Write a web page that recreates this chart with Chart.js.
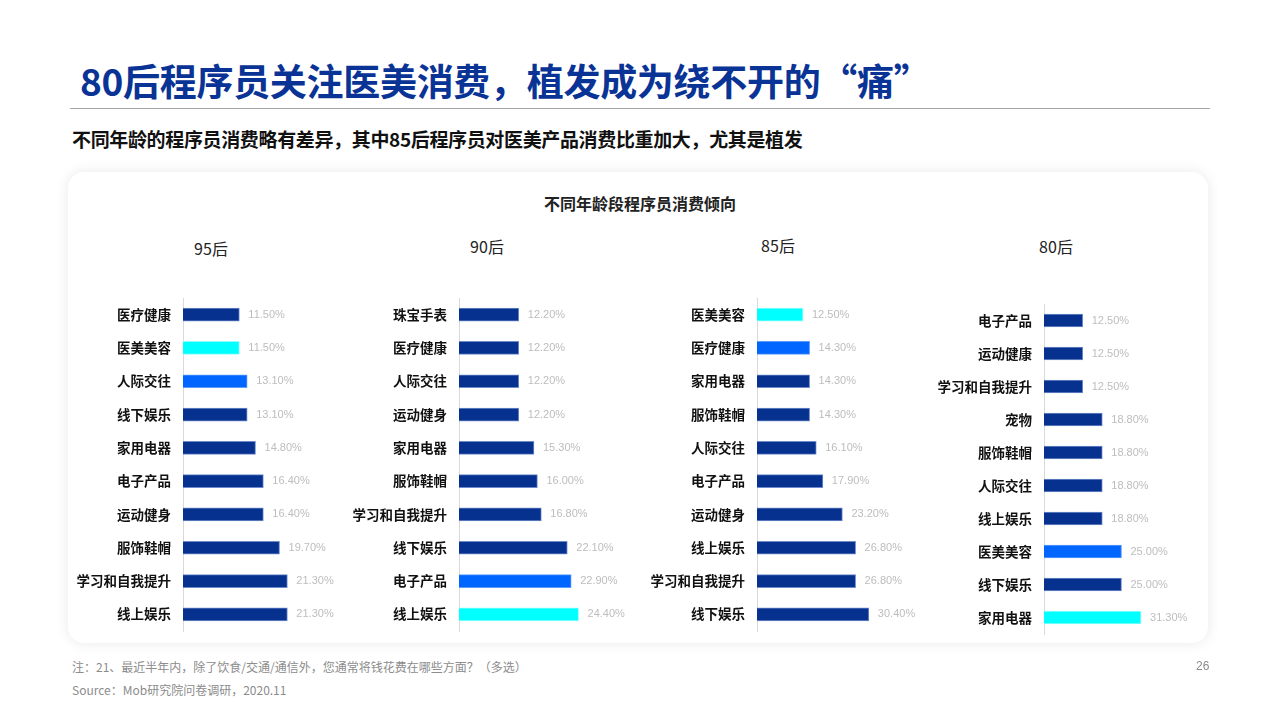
<!DOCTYPE html>
<html>
<head>
<meta charset="utf-8">
<script src="https://cdn.jsdelivr.net/npm/chart.js@4.4.0/dist/chart.umd.min.js"></script>
<style>
    body { margin: 0; width: 1280px; height: 720px; background: #fff; position: relative; overflow: hidden;
           font-family: "Noto Sans CJK SC", "Liberation Sans", sans-serif; }
    .abs { position: absolute; white-space: nowrap; }
    .title { left: 80px; top: 60px; font-size: 37px; line-height: 40px; font-weight: bold; color: #0a3396; letter-spacing: -0.3px; }
    .rule { left: 70px; top: 108px; width: 1140px; height: 1px; background: #a6a6a6; }
    .sub { left: 72px; top: 127px; font-size: 19px; line-height: 24px; font-weight: bold; color: #111; letter-spacing: -0.35px; }
    .card { left: 68px; top: 172px; width: 1140px; height: 471px; border-radius: 16px; background: #fff;
            box-shadow: 0 0 14px rgba(0,0,0,0.09); }
    .ctitle { left: 640px; top: 203px; transform: translate(-50%, -50%); font-size: 16px; font-weight: bold; color: #222; }
    .plabel { transform: translate(-50%, -50%); font-size: 16px; color: #222; }
    .note { left: 72px; font-size: 12px; color: #8c8c8c; line-height: 16px; }
    .pg { left: 1196px; top: 659px; font-size: 12px; color: #8c8c8c; font-family: "Liberation Sans", sans-serif; }
    canvas { position: absolute; }
</style>
</head>
<body>
<div class="abs title">80后程序员关注医美消费，植发成为绕不开的“痛”</div>
<div class="abs rule"></div>
<div class="abs sub">不同年龄的程序员消费略有差异，其中85后程序员对医美产品消费比重加大，尤其是植发</div>
<div class="abs card"></div>
<div class="abs ctitle">不同年龄段程序员消费倾向</div>
<div class="abs plabel" style="left:211px;top:248px">95后</div>
<div class="abs plabel" style="left:487px;top:246px">90后</div>
<div class="abs plabel" style="left:778px;top:245px">85后</div>
<div class="abs plabel" style="left:1056px;top:246px">80后</div>

<canvas id="c95"></canvas>
<canvas id="c90"></canvas>
<canvas id="c85"></canvas>
<canvas id="c80"></canvas>

<div class="abs note" style="top:659px">注：21、最近半年内，除了饮食/交通/通信外，您通常将钱花费在哪些方面？（多选）</div>
<div class="abs note" style="top:682px">Source：Mob研究院问卷调研，2020.11</div>
<div class="abs pg">26</div>

<script>
// --- Data ---
const cats95 = ['医疗健康', '医美美容', '人际交往', '线下娱乐', '家用电器', '电子产品', '运动健身', '服饰鞋帽', '学习和自我提升', '线上娱乐'];
const vals95 = [11.5, 11.5, 13.1, 13.1, 14.8, 16.4, 16.4, 19.7, 21.3, 21.3];

const cats90 = ['珠宝手表', '医疗健康', '人际交往', '运动健身', '家用电器', '服饰鞋帽', '学习和自我提升', '线下娱乐', '电子产品', '线上娱乐'];
const vals90 = [12.2, 12.2, 12.2, 12.2, 15.3, 16.0, 16.8, 22.1, 22.9, 24.4];

const cats85 = ['医美美容', '医疗健康', '家用电器', '服饰鞋帽', '人际交往', '电子产品', '运动健身', '线上娱乐', '学习和自我提升', '线下娱乐'];
const vals85 = [12.5, 14.3, 14.3, 14.3, 16.1, 17.9, 23.2, 26.8, 26.8, 30.4];

const cats80 = ['电子产品', '运动健康', '学习和自我提升', '宠物', '服饰鞋帽', '人际交往', '线上娱乐', '医美美容', '线下娱乐', '家用电器'];
const vals80 = [12.5, 12.5, 12.5, 18.8, 18.8, 18.8, 18.8, 25.0, 25.0, 31.3];

// --- Styles ---
const NAVY = '#06318f', BLUE = '#0066ff', CYAN = '#00ffff';
const EDGE = { [NAVY]: '#6f8bcb', [BLUE]: '#5c9cff', [CYAN]: '#8cffff' };
const highlights = {
    c95: { '医美美容': CYAN, '人际交往': BLUE },
    c90: { '电子产品': BLUE, '线上娱乐': CYAN },
    c85: { '医美美容': CYAN, '医疗健康': BLUE },
    c80: { '医美美容': BLUE, '家用电器': CYAN }
};

// panel geometry: canvas left, top of plot area, y-axis width, px per %, axis max, plot height
const panels = [
    { id: 'c95', cats: cats95, vals: vals95, left: 70,  areaTop: 298, axisW: 113, pxPer: 4.9,  max: 30, areaH: 333 },
    { id: 'c90', cats: cats90, vals: vals90, left: 340, areaTop: 298, axisW: 119, pxPer: 4.9,  max: 30, areaH: 333 },
    { id: 'c85', cats: cats85, vals: vals85, left: 640, areaTop: 298, axisW: 117, pxPer: 3.68, max: 40, areaH: 333 },
    { id: 'c80', cats: cats80, vals: vals80, left: 925, areaTop: 304, axisW: 119, pxPer: 3.1,  max: 45, areaH: 330 }
];

// value labels at the end of each bar
const valueLabels = {
    id: 'valueLabels',
    afterDatasetsDraw(chart) {
        const ctx = chart.ctx;
        const ds = chart.data.datasets[0];
        ctx.save();
        ctx.font = '11px "Liberation Sans", Arial, sans-serif';
        ctx.fillStyle = '#bdbdbd';
        ctx.textBaseline = 'middle';
        ctx.textAlign = 'left';
        chart.getDatasetMeta(0).data.forEach((bar, i) => {
            ctx.fillText(ds.data[i].toFixed(2) + '%', bar.x + 9, bar.y);
        });
        ctx.restore();
    }
};

function buildPanel(p) {
    const canvas = document.getElementById(p.id);
    const pad = 24, padRight = 45;
    const h = p.areaH + pad * 2;
    const w = Math.round(p.axisW + p.pxPer * p.max + padRight);
    canvas.width = w;
    canvas.height = h;
    canvas.style.left = p.left + 'px';
    canvas.style.top = (p.areaTop - pad) + 'px';

    const colors = p.cats.map(c => highlights[p.id][c] || NAVY);

    new Chart(canvas.getContext('2d'), {
        type: 'bar',
        data: {
            labels: p.cats,
            datasets: [{
                data: p.vals,
                backgroundColor: colors,
                borderColor: colors.map(c => EDGE[c]),
                borderWidth: 1,
                barThickness: 13
            }]
        },
        options: {
            indexAxis: 'y',
            responsive: false,
            animation: false,
            layout: { padding: { top: pad, bottom: pad, right: w - p.axisW - p.pxPer * p.max, left: 0 } },
            scales: {
                x: { display: false, min: 0, max: p.max },
                y: {
                    afterFit: s => { s.width = p.axisW; },
                    grid: { display: false, drawTicks: false },
                    border: { display: true, color: '#d9d9d9', width: 1 },
                    ticks: {
                        autoSkip: false,
                        padding: 12,
                        color: '#111',
                        font: { size: 13.5, weight: 'bold', family: '"Noto Sans CJK SC", sans-serif' }
                    }
                }
            },
            plugins: { legend: { display: false }, tooltip: { enabled: false } }
        },
        plugins: [valueLabels]
    });
}

panels.forEach(buildPanel);
</script>
</body>
</html>
